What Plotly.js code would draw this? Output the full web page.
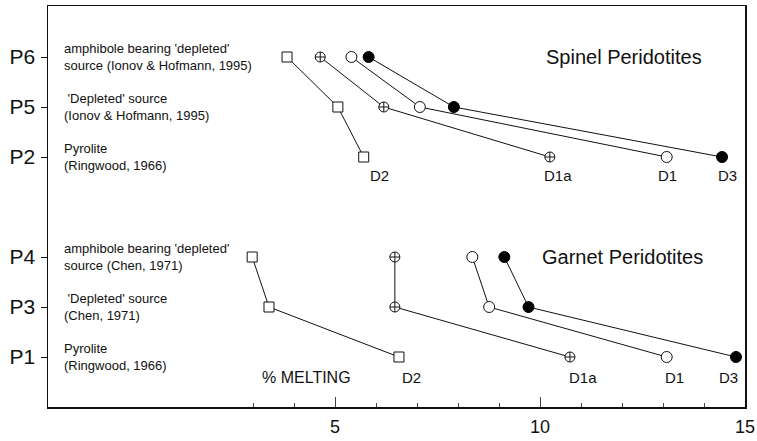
<!DOCTYPE html>
<html><head><meta charset="utf-8">
<script src="https://cdn.plot.ly/plotly-3.0.1.min.js"></script>
<style>html,body{margin:0;padding:0;background:#fff}#chart{width:757px;height:441px}</style>
</head><body><div id="chart"></div>
<script>
// Rows (source compositions) and their vertical order (gap between groups)
const rowNames = ['P1','P3','P4','P2','P5','P6'];
const rowOrder = [0, 1, 2, 4, 5, 6];
const rowDescriptions = [
  'Pyrolite<br>(Ringwood, 1966)',
  " 'Depleted' source<br>(Chen, 1971)",
  "amphibole bearing 'depleted'<br>source (Chen, 1971)",
  'Pyrolite<br>(Ringwood, 1966)',
  " 'Depleted' source<br>(Ionov & Hofmann, 1995)",
  "amphibole bearing 'depleted'<br>source (Ionov & Hofmann, 1995)"
];

// Spinel peridotites: rows P6 -> P5 -> P2, % melting
const spinelRows = ['P6','P5','P2'];
const spinelD2  = [3.83, 5.07, 5.70];
const spinelD1a = [4.64, 6.19, 10.24];
const spinelD1  = [5.40, 7.07, 13.09];
const spinelD3  = [5.82, 7.90, 14.44];

// Garnet peridotites: rows P4 -> P3 -> P1, % melting
const garnetRows = ['P4','P3','P1'];
const garnetD2  = [2.98, 3.39, 6.56];
const garnetD1a = [6.46, 6.46, 10.73];
const garnetD1  = [8.35, 8.76, 13.09];
const garnetD3  = [9.13, 9.72, 14.78];

const seriesNames = ['D2','D1a','D1','D3'];
const xTicks = [5, 10, 15];
const xMinorTicks = [3, 4, 6, 7, 8, 9, 11, 12, 13, 14];

const yOf = r => rowOrder[rowNames.indexOf(r)];
const markerStyles = {
  D2:  {symbol:'square', size:10, color:'#fff', line:{color:'#111', width:1}},
  D1a: {symbol:'circle-cross', size:10, color:'#fff', line:{color:'#111', width:1}},
  D1:  {symbol:'circle', size:11, color:'#fff', line:{color:'#111', width:1}},
  D3:  {symbol:'circle', size:11, color:'#000', line:{color:'#000', width:1}}
};

const traces = [];
const groups = [
  {rows: spinelRows, vals: [spinelD2, spinelD1a, spinelD1, spinelD3]},
  {rows: garnetRows, vals: [garnetD2, garnetD1a, garnetD1, garnetD3]}
];
groups.forEach(g => {
  g.vals.forEach((xs, i) => {
    traces.push({
      type:'scatter', mode:'lines+markers',
      x: xs, y: g.rows.map(yOf),
      line:{color:'#111', width:1},
      marker: markerStyles[seriesNames[i]],
      cliponaxis:false, showlegend:false, hoverinfo:'x+y'
    });
  });
});

const font = 'Arial, "Liberation Sans", Helvetica, sans-serif';
const annotations = [];
rowNames.forEach((r, i) => {
  annotations.push({x:-1.67, y:rowOrder[i], xref:'x', yref:'y', text:rowDescriptions[i],
    showarrow:false, xanchor:'left', yanchor:'middle', align:'left',
    font:{family:font, size:13, color:'#111'}});
});
// series labels under the last point of each group
const spinelShift = [16, 8, 1, 5];
const garnetShift = [13, 13, 8, -7];
groups.forEach((g, gi) => {
  g.vals.forEach((xs, i) => {
    annotations.push({x: xs[2], y: yOf(g.rows[2]), xref:'x', yref:'y', text: seriesNames[i],
      showarrow:false, xanchor:'center', yanchor:'middle',
      xshift: gi === 0 ? spinelShift[i] : garnetShift[i], yshift: gi === 0 ? -18 : -20,
      font:{family:font, size:15, color:'#111'}});
  });
});
annotations.push({x:12.05, y:yOf('P6'), xref:'x', yref:'y', text:'Spinel Peridotites', showarrow:false,
  font:{family:font, size:20, color:'#111'}});
annotations.push({x:12.0, y:yOf('P4'), xref:'x', yref:'y', text:'Garnet Peridotites', showarrow:false,
  font:{family:font, size:20, color:'#111'}});
annotations.push({x:4.3, y:yOf('P1'), xref:'x', yref:'y', yshift:-20, text:'% MELTING', showarrow:false,
  font:{family:font, size:16, color:'#111'}});

const layout = {
  width:757, height:441,
  margin:{l:48, r:12, t:6, b:34},
  paper_bgcolor:'#fff', plot_bgcolor:'#fff',
  showlegend:false,
  xaxis:{range:[-2, 15], tickmode:'array', tickvals:xTicks, ticks:'inside', ticklen:10,
    tickcolor:'#444', tickwidth:1, showgrid:false, zeroline:false, showline:true, mirror:true,
    linecolor:'#111', linewidth:1.5, ticklabelstandoff:3,
    tickfont:{family:font, size:18, color:'#111'},
    minor:{tickmode:'array', tickvals:xMinorTicks, ticks:'inside', ticklen:4, tickcolor:'#444', tickwidth:1, showgrid:false}},
  yaxis:{range:[-1, 7.02], tickmode:'array', tickvals:rowOrder, ticktext:rowNames, ticks:'outside',
    ticklen:6, tickcolor:'#111', tickwidth:1, showgrid:false, zeroline:false, showline:true, mirror:true,
    linecolor:'#111', linewidth:1.5, ticklabelstandoff:1,
    tickfont:{family:font, size:21, color:'#111'}},
  annotations: annotations
};
Plotly.newPlot('chart', traces, layout, {displayModeBar:false, staticPlot:true});
</script></body></html>
